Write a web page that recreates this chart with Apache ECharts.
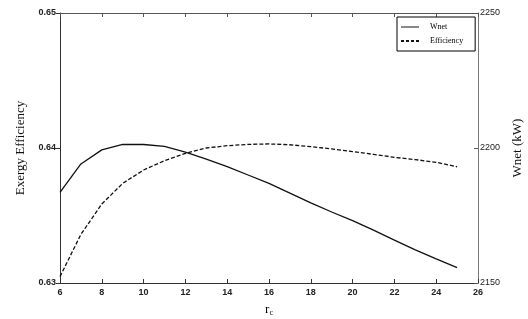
<!DOCTYPE html>
<html>
<head>
<meta charset="utf-8">
<script src="https://cdn.jsdelivr.net/npm/echarts@6/dist/echarts.min.js"></script>
<style>html,body{margin:0;padding:0;background:#fff}#c{width:528px;height:319px}</style>
</head>
<body>
<div id="c"></div>
<script>
var rc = [6, 7, 8, 9, 10, 11, 12, 13, 14, 15, 16, 17, 18, 19, 20, 21, 22, 23, 24, 25];
var wnet = [2183.6, 2194.1, 2199.3, 2201.3, 2201.3, 2200.6, 2198.5, 2195.9, 2193.1, 2190.0, 2186.9, 2183.3, 2179.7, 2176.3, 2173.1, 2169.6, 2165.9, 2162.3, 2158.9, 2155.7];
var efficiency = [0.63047, 0.63360, 0.63585, 0.63738, 0.63837, 0.63906, 0.63960, 0.64000, 0.64017, 0.64027, 0.64030, 0.64024, 0.64010, 0.63993, 0.63973, 0.63953, 0.63931, 0.63914, 0.63894, 0.63861];
var leftTicks = [0.63, 0.64, 0.65];
var rightTicks = [2150, 2200, 2250];

var chart = echarts.init(document.getElementById('c'), null, {renderer: 'canvas'});
var tickFont = {fontFamily: 'Liberation Sans, Arial', fontSize: 9, fontWeight: 'bold', color: '#222'};
chart.setOption({
  backgroundColor: '#fff',
  animation: false,
  grid: {left: 60, right: 50, top: 13, bottom: 36, outerBoundsMode: 'none', containLabel: false},
  legend: {
    left: 397, top: 17, width: 78,
    orient: 'vertical',
    itemWidth: 18, itemHeight: 8, itemGap: 6,
    padding: [6, 12, 6, 4],
    borderColor: '#000', borderWidth: 1, backgroundColor: '#fff',
    textStyle: {fontFamily: 'Liberation Serif', fontSize: 8, color: '#000', padding: [0, 0, 0, 6]},
    data: [
      {name: 'Wnet', icon: 'path://M0,4L18,4L18,5L0,5Z'},
      {name: 'Efficiency', icon: 'path://M0,3L3,3L3,5L0,5ZM5,3L8,3L8,5L5,5ZM10,3L13,3L13,5L10,5ZM15,3L18,3L18,5L15,5Z'}
    ]
  },
  xAxis: [{
    type: 'value', min: 6, max: 26, interval: 2,
    name: 'r{s|c}', nameLocation: 'middle', nameGap: 20,
    nameTextStyle: {fontFamily: 'Liberation Serif', fontSize: 13, color: '#000',
      rich: {s: {fontFamily: 'Liberation Serif', fontSize: 8, verticalAlign: 'bottom', padding: [6, 0, 0, 0]}}},
    axisLine: {lineStyle: {color: '#333', width: 1}},
    axisTick: {inside: true, length: 4, lineStyle: {color: '#333'}},
    axisLabel: Object.assign({margin: 5}, tickFont),
    splitLine: {show: false}
  }, {
    type: 'value', min: 6, max: 26, interval: 2, position: 'top',
    axisLine: {show: true, lineStyle: {color: '#555'}},
    axisTick: {inside: true, length: 4, lineStyle: {color: '#555'}},
    axisLabel: {show: false},
    splitLine: {show: false}
  }],
  yAxis: [{
    type: 'value', min: 0.63, max: 0.65, interval: 0.01,
    name: 'Exergy Efficiency', nameLocation: 'middle', nameGap: 33,
    nameTextStyle: {fontFamily: 'Liberation Serif', fontSize: 13, color: '#111'},
    axisLine: {show: true, lineStyle: {color: '#333'}},
    axisTick: {length: 4, lineStyle: {color: '#333'}},
    axisLabel: Object.assign({margin: 4, formatter: function (v) { return v.toFixed(2); }}, tickFont),
    splitLine: {show: false}
  }, {
    type: 'value', min: 2150, max: 2250, interval: 50, position: 'right',
    name: 'Wnet (kW)', nameLocation: 'middle', nameGap: 30, nameRotate: 90,
    nameTextStyle: {fontFamily: 'Liberation Serif', fontSize: 13, color: '#111'},
    axisLine: {show: true, lineStyle: {color: '#777'}},
    axisTick: {inside: true, length: 4, lineStyle: {color: '#555'}},
    axisLabel: Object.assign({margin: 2, formatter: function (v) { return String(v); }}, tickFont, {fontWeight: 'normal'}),
    splitLine: {show: false}
  }],
  series: [{
    name: 'Wnet', type: 'line', yAxisIndex: 1, xAxisIndex: 0,
    data: rc.map(function (x, i) { return [x, wnet[i]]; }),
    showSymbol: false, symbol: 'none',
    lineStyle: {color: '#111', width: 1.3, type: 'solid'},
    itemStyle: {color: '#111'}
  }, {
    name: 'Efficiency', type: 'line', yAxisIndex: 0, xAxisIndex: 0,
    data: rc.map(function (x, i) { return [x, efficiency[i]]; }),
    showSymbol: false, symbol: 'none',
    lineStyle: {color: '#111', width: 1.3, type: [4, 2]},
    itemStyle: {color: '#111'}
  }]
});
</script>
</body>
</html>
